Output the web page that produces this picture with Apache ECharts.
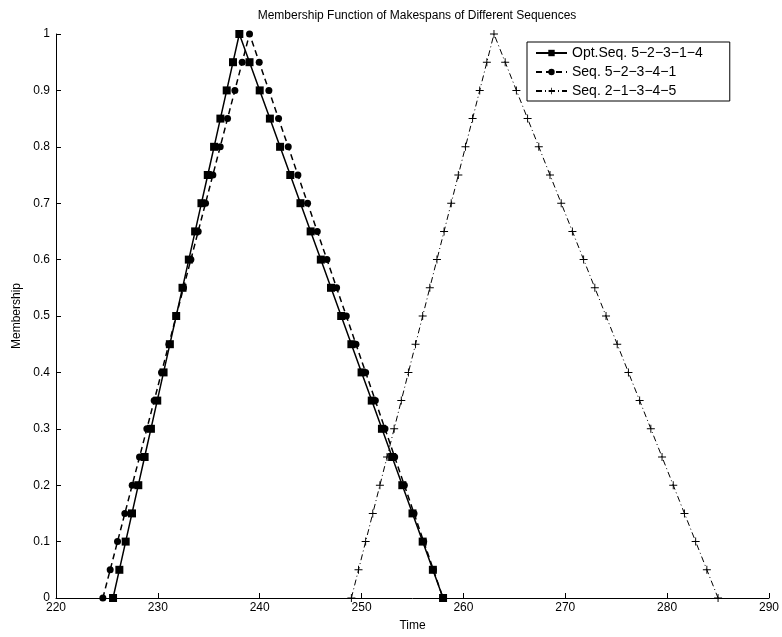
<!DOCTYPE html>
<html>
<head>
<meta charset="utf-8">
<script src="https://cdn.jsdelivr.net/npm/echarts@6/dist/echarts.min.js"></script>
<style>
  html, body { margin: 0; padding: 0; background: #fff; }
  #mainChart { width: 782px; height: 637px; }
</style>
</head>
<body>
<div id="mainChart"></div>
<script>
// membership levels, up then down
var levels = [0, 0.05, 0.1, 0.15, 0.2, 0.25, 0.3, 0.35, 0.4, 0.45, 0.5, 0.55, 0.6, 0.65, 0.7, 0.75, 0.8, 0.85, 0.9, 0.95, 1,
              0.95, 0.9, 0.85, 0.8, 0.75, 0.7, 0.65, 0.6, 0.55, 0.5, 0.45, 0.4, 0.35, 0.3, 0.25, 0.2, 0.15, 0.1, 0.05, 0];

// time values, one per level
var optSeqTime = [225.6, 226.22, 226.84, 227.46, 228.08, 228.7, 229.32, 229.94, 230.56, 231.18, 231.8, 232.42, 233.04, 233.66, 234.28, 234.9, 235.52, 236.14, 236.76, 237.38, 238,
                  239, 240, 241, 242, 243, 244, 245, 246, 247, 248, 249, 250, 251, 252, 253, 254, 255, 256, 257, 258];
var seqATime = [224.6, 225.32, 226.04, 226.76, 227.48, 228.2, 228.92, 229.64, 230.36, 231.08, 231.8, 232.52, 233.24, 233.96, 234.68, 235.4, 236.12, 236.84, 237.56, 238.28, 239,
                239.95, 240.9, 241.85, 242.8, 243.75, 244.7, 245.65, 246.6, 247.55, 248.5, 249.45, 250.4, 251.35, 252.3, 253.25, 254.2, 255.15, 256.1, 257.05, 258];
var seqBTime = [249, 249.7, 250.4, 251.1, 251.8, 252.5, 253.2, 253.9, 254.6, 255.3, 256, 256.7, 257.4, 258.1, 258.8, 259.5, 260.2, 260.9, 261.6, 262.3, 263,
                264.1, 265.2, 266.3, 267.4, 268.5, 269.6, 270.7, 271.8, 272.9, 274, 275.1, 276.2, 277.3, 278.4, 279.5, 280.6, 281.7, 282.8, 283.9, 285];

var seriesNames = ['Opt.Seq. 5\u22122\u22123\u22121\u22124', 'Seq. 5\u22122\u22123\u22124\u22121', 'Seq. 2\u22121\u22123\u22124\u22125'];

function toPairs(xs) {
    var out = [];
    for (var i = 0; i < xs.length; i++) {
        out.push([xs[i], levels[i]]);
    }
    return out;
}

var fontName = 'Liberation Sans';
var plusPath = 'path://M-1,-0.12 H1 V0.12 H-1 Z M-0.12,-1 H0.12 V1 H-0.12 Z';

var myChart = echarts.init(document.getElementById('mainChart'), null, { renderer: 'canvas' });

var option = {
    animation: false,
    backgroundColor: '#ffffff',
    textStyle: { fontFamily: fontName, color: '#000' },
    title: {
        text: 'Membership Function of Makespans of Different Sequences',
        left: 412,
        top: 5,
        textAlign: 'center',
        textStyle: { fontSize: 12, fontWeight: 'normal', color: '#000', fontFamily: fontName }
    },
    legend: {
        orient: 'vertical',
        left: 527,
        top: 42,
        padding: [4, 27, 3, 8],
        itemGap: 5,
        itemWidth: 31,
        itemHeight: 8,
        borderColor: '#000',
        borderWidth: 1,
        backgroundColor: '#fff',
        borderRadius: 0,
        textStyle: { fontSize: 14, lineHeight: 14, color: '#000', fontFamily: fontName },
        data: seriesNames
    },
    grid: {
        left: 56,
        right: 13,
        top: 34,
        bottom: 39,
        containLabel: false
    },
    xAxis: {
        type: 'value',
        min: 220,
        max: 290,
        interval: 10,
        name: 'Time',
        nameLocation: 'middle',
        nameGap: 22,
        nameTextStyle: { fontSize: 12, color: '#000', fontFamily: fontName },
        axisLine: { show: true, lineStyle: { color: '#000', width: 1 } },
        axisTick: { show: true, inside: true, length: 5, lineStyle: { color: '#000' } },
        axisLabel: { fontSize: 12, color: '#000', margin: 4, fontFamily: fontName },
        splitLine: { show: false }
    },
    yAxis: {
        type: 'value',
        min: 0,
        max: 1,
        interval: 0.1,
        name: 'Membership',
        nameLocation: 'middle',
        nameGap: 32,
        nameTextStyle: { fontSize: 12, color: '#000', fontFamily: fontName },
        axisLine: { show: true, lineStyle: { color: '#000', width: 1 } },
        axisTick: { show: true, inside: true, length: 5, lineStyle: { color: '#000' } },
        axisLabel: {
            fontSize: 12, color: '#000', margin: 6, fontFamily: fontName,
            formatter: function (v) { return String(+v.toFixed(1)); }
        },
        splitLine: { show: false }
    },
    series: [{
        name: seriesNames[0],
        type: 'line',
        data: toPairs(optSeqTime),
        symbol: 'rect',
        symbolSize: 8,
        showAllSymbol: true,
        itemStyle: { color: '#000' },
        lineStyle: { color: '#000', width: 1.5, type: 'solid' },
        z: 3
    }, {
        name: seriesNames[1],
        type: 'line',
        data: toPairs(seqATime),
        symbol: 'circle',
        symbolSize: 7,
        showAllSymbol: true,
        itemStyle: { color: '#000' },
        lineStyle: { color: '#000', width: 1.5, type: [6, 4] },
        z: 2
    }, {
        name: seriesNames[2],
        type: 'line',
        data: toPairs(seqBTime),
        symbol: plusPath,
        symbolSize: 8,
        showAllSymbol: true,
        itemStyle: { color: '#000' },
        lineStyle: { color: '#000', width: 1, type: [6, 3, 1, 3] },
        z: 2
    }]
};

myChart.setOption(option);
</script>
</body>
</html>
